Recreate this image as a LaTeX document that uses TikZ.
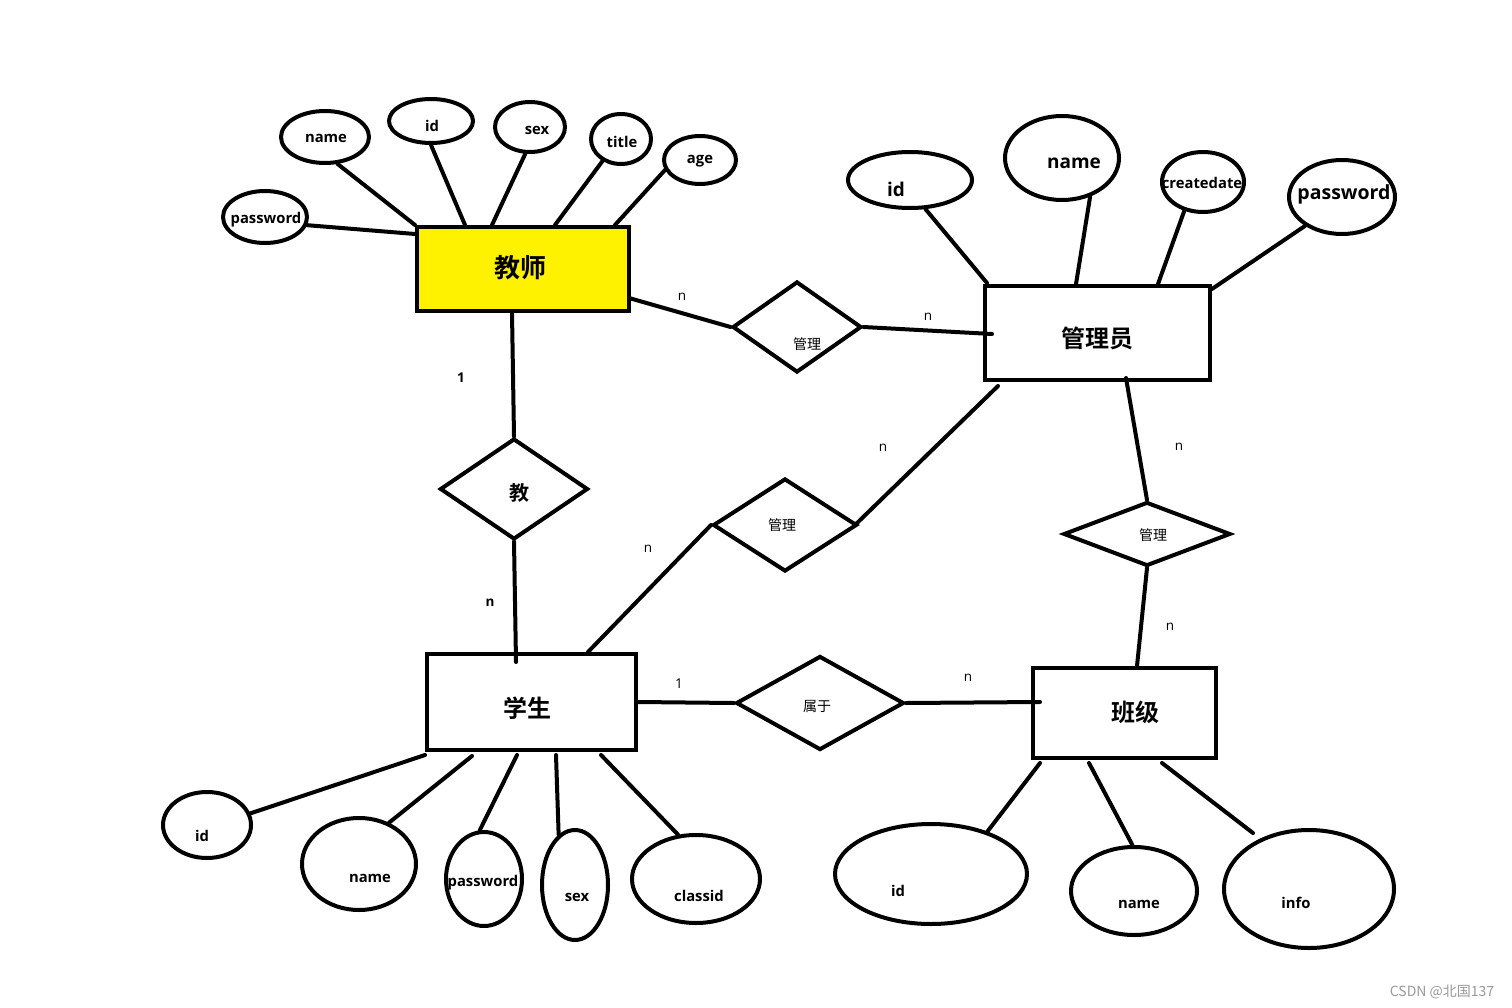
\documentclass[tikz,border=0pt]{standalone}
\usepackage{fontspec}
\setmainfont{Open Sans}
\newfontfamily\cjk{Noto Sans CJK SC}
\newfontfamily\cjkb{Noto Sans CJK SC Bold}
\usetikzlibrary{shapes.geometric}
\definecolor{paintyellow}{HTML}{FFF200}
\definecolor{wmgrey}{HTML}{9A9A9A}
\begin{document}
\begin{tikzpicture}[x=1pt,y=-1pt, line width=4pt,
 ent/.style={draw, rectangle, inner sep=0pt},
 rel/.style={draw, diamond, inner sep=0pt},
 attr/.style={draw, ellipse, inner sep=0pt},
 con/.style={line cap=round},
 atxt/.style={font=\fontsize{14.8}{16}\selectfont\bfseries, inner sep=0pt, yshift=-1.5pt},
 atxtl/.style={font=\fontsize{19}{21}\selectfont\bfseries, inner sep=0pt, yshift=-1.5pt},
 etxt/.style={font=\fontsize{24}{28}\cjkb, inner sep=0pt},
 rtxt/.style={font=\fontsize{14}{16}\cjk, inner sep=0pt},
 card/.style={font=\fontsize{13.5}{15}\selectfont, inner sep=0pt, yshift=-1pt},
 cardb/.style={font=\fontsize{13.5}{15}\selectfont\bfseries, inner sep=0pt, yshift=-1pt}]
\fill[white] (0,0) rectangle (1512,1008);
\useasboundingbox (0,0) rectangle (1512,1008);

% ---------- entities ----------
\node[ent, fill=paintyellow, minimum width=212pt, minimum height=84pt] (T) at (523,269) {};
\node[etxt, font=\fontsize{26}{30}\cjkb] (Tt) at (520,268) {教师};
\node[ent, minimum width=225pt, minimum height=94pt] (A) at (1097.5,333) {};
\node[etxt] (At) at (1097,338) {管理员};
\node[ent, minimum width=209pt, minimum height=96pt] (S) at (531.5,702) {};
\node[etxt] (St) at (527,708) {学生};
\node[ent, minimum width=183pt, minimum height=90pt] (C) at (1124.5,713) {};
\node[etxt] (Ct) at (1135,712) {班级};

% ---------- relationships ----------
\node[rel, minimum width=129pt, minimum height=91pt] (D1) at (797,327) {};
\node[rtxt] (D1t) at (807,344) {管理};
\node[rel, minimum width=148pt, minimum height=101pt] (D2) at (514,489) {};
\node[etxt, font=\fontsize{20}{24}\cjkb] (D2t) at (519,493) {教};
\node[rel, minimum width=144pt, minimum height=93pt] (D3) at (785,525) {};
\node[rtxt] (D3t) at (782,525) {管理};
\node[rel, minimum width=167pt, minimum height=64pt] (D4) at (1147,534) {};
\node[rtxt] (D4t) at (1153,535) {管理};
\node[rel, minimum width=168pt, minimum height=94pt] (D5) at (820,703) {};
\node[rtxt] (D5t) at (817,706) {属于};

% ---------- teacher attributes ----------
\node[attr, minimum width=84pt, minimum height=52pt] (tpw) at (265,217) {};
\node[atxt] (tpwt) at (266,218) {password};
\node[attr, minimum width=88pt, minimum height=52pt] (tn) at (325,137) {};
\node[atxt] (tnt) at (326,137) {name};
\node[attr, minimum width=84pt, minimum height=44pt] (ti) at (431,121) {};
\node[atxt] (tit) at (432,124) {id};
\node[attr, minimum width=70pt, minimum height=50pt] (ts) at (530,127) {};
\node[atxt] (tst) at (537,129) {sex};
\node[attr, minimum width=60pt, minimum height=50pt] (tt) at (621,139) {};
\node[atxt] (ttt) at (622,140) {title};
\node[attr, minimum width=72pt, minimum height=48pt] (ta) at (700,160) {};
\node[atxt] (tat) at (700,160) {age};

\draw[con] (tpw.-11) -- ([yshift=35pt]T.west);
\draw[con] (tn.-65) -- (T.north west);
\draw[con] (ti.-90) -- ([xshift=-58pt]T.north);
\draw[con] (ts.-100) -- ([xshift=-31pt]T.north);
\draw[con] (tt.-130) -- ([xshift=32pt]T.north);
\draw[con] (ta.-164) -- ([xshift=92pt]T.north);

% ---------- admin attributes ----------
\node[attr, minimum width=124pt, minimum height=56pt] (aid) at (910,180) {};
\node[atxtl] (aidt) at (896,188) {id};
\node[attr, minimum width=114pt, minimum height=84pt] (an) at (1062,158) {};
\node[atxtl] (ant) at (1074,162) {name};
\node[attr, minimum width=82pt, minimum height=60pt] (acd) at (1203,182) {};
\node[atxt] (acdt) at (1202,181) {createdate};
\node[attr, minimum width=106pt, minimum height=74pt] (apw) at (1342,197) {};
\node[atxtl, font=\fontsize{19.5}{21}\selectfont\bfseries] (apwt) at (1344,193) {password};

\draw[con] (aid.-62) -- ([xshift=4pt,yshift=1pt]A.north west);
\draw[con] (an.-54) -- ([xshift=-21.5pt]A.north);
\draw[con] (acd.-123) -- ([xshift=60.5pt]A.north);
\draw[con] (apw.-142) -- ([yshift=-5pt]A.north east);

% ---------- student attributes ----------
\node[attr, minimum width=88pt, minimum height=66pt] (sid) at (207,825) {};
\node[atxt] (sidt) at (202,834) {id};
\node[attr, minimum width=114pt, minimum height=92pt] (sn) at (359,864) {};
\node[atxt] (snt) at (370,877) {name};
\node[attr, minimum width=76pt, minimum height=94pt] (spw) at (484,879) {};
\node[atxt] (spwt) at (483,881) {password};
\node[attr, minimum width=66pt, minimum height=110pt] (ssx) at (575,885) {};
\node[atxt] (ssxt) at (577,896) {sex};
\node[attr, minimum width=128pt, minimum height=88pt] (scl) at (696,879) {};
\node[atxt] (sclt) at (699,894) {classid};

\draw[con] (sid.15) -- ([yshift=-3pt]S.south west);
\draw[con] (sn.54) -- ([xshift=-59.5pt,yshift=-4pt]S.south);
\draw[con] (spw.95) -- ([xshift=-14.5pt,yshift=-3pt]S.south);
\draw[con] (ssx.108) -- ([xshift=24.5pt,yshift=-3pt]S.south);
\draw[con] (scl.112) -- ([xshift=69.5pt,yshift=-3pt]S.south);

% ---------- class attributes ----------
\node[attr, minimum width=192pt, minimum height=100pt] (cid) at (931,874) {};
\node[atxt] (cidt) at (898,889) {id};
\node[attr, minimum width=126pt, minimum height=88pt] (cn) at (1134,891) {};
\node[atxt] (cnt) at (1139,903) {name};
\node[attr, minimum width=170pt, minimum height=118pt] (ci) at (1309,889) {};
\node[atxt] (cit) at (1296,901) {info};

\draw[con] (cid.37) -- ([xshift=-84.5pt,yshift=-3pt]C.south);
\draw[con] (cn.92) -- ([xshift=-35.5pt,yshift=-3pt]C.south);
\draw[con] ([shift={(-6pt,6pt)}]ci.135) -- ([xshift=37.5pt,yshift=-3pt]C.south);

% ---------- relationship connectors ----------
\draw[con] ([xshift=-2pt,yshift=-29pt]T.east) -- (D1.west);
\draw[con] (D1.east) -- ([xshift=9pt,yshift=-1pt]A.west);
\draw[con] ([xshift=-11pt]T.south) -- (D2.north);
\draw[con] (D2.south) -- ([xshift=-15.5pt,yshift=-10pt]S.north);
\draw[con] ([xshift=56.5pt]S.north) -- (D3.west);
\draw[con] ([xshift=-4pt]D3.east) -- ([xshift=15pt,yshift=-4pt]A.south west);
\draw[con] ([xshift=28.5pt,yshift=4pt]A.south) -- (D4.north);
\draw[con] (D4.south) -- ([xshift=12.5pt]C.north);
\draw[con] (S.east) -- (D5.west);
\draw[con] (D5.east) -- ([xshift=9pt,yshift=11pt]C.west);

% ---------- cardinalities ----------
\node[card] (c1) at (682,296) {n};
\node[card] (c2) at (928,316) {n};
\node[cardb] (c3) at (461,377) {1};
\node[cardb] (c4) at (490,602) {n};
\node[card] (c5) at (883,447) {n};
\node[card] (c6) at (648,548) {n};
\node[card] (c7) at (1179,446) {n};
\node[card] (c8) at (1170,626) {n};
\node[card] (c9) at (679,683) {1};
\node[card] (c10) at (968,677) {n};

% ---------- watermark ----------
\node[font=\fontsize{14}{16}\cjk, text=wmgrey, inner sep=0pt] (wm) at (1442,992) {CSDN @北国137};
\end{tikzpicture}
\end{document}
